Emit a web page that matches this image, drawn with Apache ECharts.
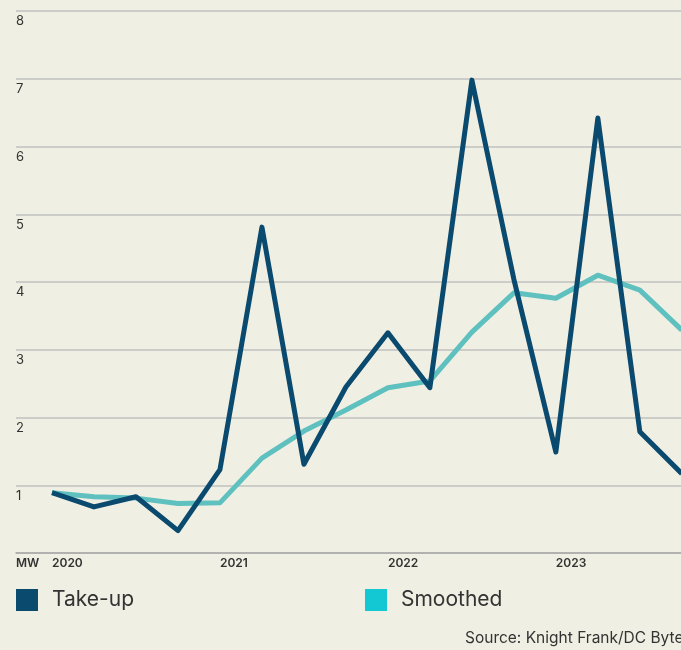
<!DOCTYPE html>
<html>
<head>
<meta charset="utf-8">
<script src="https://cdn.jsdelivr.net/npm/echarts@6/dist/echarts.min.js"></script>
<style>
html, body { margin: 0; padding: 0; background: #f0efe3; }
#chart { width: 681px; height: 650px; }
</style>
</head>
<body>
<div id="chart"></div>
<script>
// quarterly data, 2020 Q1 onwards
const quarters = ['2020 Q1', '2020 Q2', '2020 Q3', '2020 Q4', '2021 Q1', '2021 Q2', '2021 Q3', '2021 Q4',
    '2022 Q1', '2022 Q2', '2022 Q3', '2022 Q4', '2023 Q1', '2023 Q2', '2023 Q3', '2023 Q4']
const takeUp = [0.89, 0.68, 0.83, 0.33, 1.23, 4.81, 1.31, 2.45, 3.25, 2.44, 6.98, 4.04, 1.49, 6.42, 1.79, 1.17]
const smoothed = [0.89, 0.83, 0.81, 0.73, 0.74, 1.40, 1.80, 2.11, 2.44, 2.54, 3.26, 3.84, 3.76, 4.10, 3.88, 3.29]
const yearTicks = [0, 4, 8, 12]
const yearLabels = ['2020', '2021', '2022', '2023']

const fontFamily = 'Inter, "Liberation Sans", sans-serif'
const colorTake = '#0b4a6f'
const colorSmooth = '#5ec1bf'

const chart = echarts.init(document.getElementById('chart'), null, {renderer: 'canvas'})

const toPairs = arr => arr.map((v, i) => [i, v])

const option = {
    backgroundColor: '#f0efe3',
    animation: false,
    textStyle: {fontFamily: fontFamily},
    grid: {left: 16, right: 0, top: 11, bottom: 97, containLabel: false},
    xAxis: {
        type: 'value',
        min: -0.857,
        max: 14.98,
        axisLine: {show: true, lineStyle: {color: '#a8a8a8', width: 1.5}},
        axisTick: {show: false},
        splitLine: {show: false},
        axisLabel: {
            customValues: yearTicks,
            formatter: function (v) {
                return yearLabels[yearTicks.indexOf(Math.round(v))] || ''
            },
            align: 'left',
            margin: 4,
            color: '#333',
            fontSize: 12,
            fontWeight: 600,
            fontFamily: fontFamily
        }
    },
    yAxis: {
        type: 'value',
        min: 0,
        max: 8,
        interval: 1,
        axisLine: {show: false},
        axisTick: {show: false},
        splitLine: {show: true, lineStyle: {color: '#c0c0c0', width: 1.5}},
        axisLabel: {
            inside: true,
            margin: 0,
            align: 'left',
            verticalAlign: 'top',
            padding: [4, 0, 0, 0],
            color: '#333',
            fontSize: 13,
            fontFamily: fontFamily,
            formatter: function (v) {
                return v === 0 ? '{mw|MW}' : String(v)
            },
            rich: {
                mw: {fontSize: 12, fontWeight: 600, color: '#333', fontFamily: fontFamily}
            }
        }
    },
    legend: [{
        left: 16,
        top: 589,
        padding: 0,
        itemWidth: 22,
        itemHeight: 22,
        icon: 'rect',
        data: [{name: 'Take-up', itemStyle: {color: colorTake}}],
        textStyle: {fontSize: 21, color: '#333', fontFamily: fontFamily, padding: [0, 0, 0, 9]}
    }, {
        left: 365,
        top: 589,
        padding: 0,
        itemWidth: 22,
        itemHeight: 22,
        icon: 'rect',
        data: [{name: 'Smoothed', itemStyle: {color: '#14c8d3'}}],
        textStyle: {fontSize: 21, color: '#333', fontFamily: fontFamily, padding: [0, 0, 0, 9]}
    }],
    title: {
        text: 'Source: Knight Frank/DC Byte',
        left: 465,
        top: 630,
        padding: 0,
        textStyle: {fontSize: 15.5, fontWeight: 'normal', color: '#333', fontFamily: fontFamily}
    },
    series: [{
        name: 'Smoothed',
        type: 'line',
        data: toPairs(smoothed),
        showSymbol: false,
        clip: true,
        lineStyle: {color: colorSmooth, width: 5, join: 'round'},
        itemStyle: {color: colorSmooth}
    }, {
        name: 'Take-up',
        type: 'line',
        data: toPairs(takeUp),
        showSymbol: false,
        clip: true,
        lineStyle: {color: colorTake, width: 5, join: 'round'},
        itemStyle: {color: colorTake}
    }]
}

chart.setOption(option)
</script>
</body>
</html>
